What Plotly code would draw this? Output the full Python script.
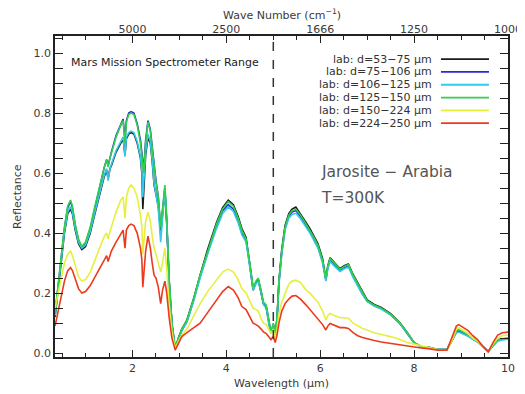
import plotly.graph_objects as go

# ---------------- data ----------------
wavelength_um = [
    0.35, 0.45, 0.55, 0.62, 0.68, 0.72, 0.78, 0.85, 0.92, 1.0,
    1.1, 1.2, 1.3, 1.4, 1.45, 1.48, 1.52, 1.55, 1.65, 1.75,
    1.80, 1.84, 1.87, 1.92, 1.97, 2.03, 2.1, 2.17, 2.2, 2.22,
    2.24, 2.28, 2.33, 2.38, 2.42, 2.46, 2.5, 2.55, 2.6, 2.64,
    2.69, 2.73, 2.78, 2.84, 2.91, 2.98, 3.05, 3.16, 3.3, 3.44,
    3.6, 3.79, 3.92, 4.04, 4.15, 4.25, 4.33, 4.42, 4.5, 4.57,
    4.63, 4.68, 4.74, 4.79, 4.85, 4.9, 4.95, 5.0, 5.04, 5.08,
    5.12, 5.18, 5.25, 5.33, 5.4, 5.48, 5.58, 5.7, 5.78, 5.85,
    5.95, 6.05, 6.12, 6.16, 6.21, 6.3, 6.42, 6.52, 6.6, 6.7,
    6.8, 6.9, 7.0, 7.15, 7.3, 7.5, 7.7, 7.85, 8.0, 8.15,
    8.3, 8.5, 8.7, 8.8, 8.9, 8.95, 9.05, 9.15, 9.25, 9.35,
    9.45, 9.58, 9.68, 9.78, 9.88, 10.0,
]

refl_53_75 = [
    0.12, 0.26, 0.40, 0.465, 0.48, 0.465, 0.41, 0.365, 0.345, 0.355,
    0.40, 0.465, 0.53, 0.59, 0.61, 0.58, 0.615, 0.625, 0.67, 0.70,
    0.715, 0.66, 0.715, 0.73, 0.735, 0.73, 0.70, 0.65, 0.60, 0.48,
    0.55, 0.66, 0.72, 0.70, 0.64, 0.56, 0.53, 0.49, 0.40, 0.46,
    0.54, 0.43, 0.24, 0.095, 0.015, 0.05, 0.08, 0.11, 0.18, 0.26,
    0.345, 0.435, 0.485, 0.51, 0.495, 0.455, 0.415, 0.385, 0.30, 0.21,
    0.235, 0.245, 0.20, 0.165, 0.15, 0.10, 0.065, 0.095, 0.055, 0.115,
    0.24, 0.345, 0.425, 0.465, 0.48, 0.487, 0.465, 0.435, 0.415, 0.395,
    0.365, 0.315, 0.245, 0.29, 0.318, 0.302, 0.282, 0.292, 0.297, 0.262,
    0.232, 0.202, 0.177, 0.162, 0.152, 0.132, 0.10, 0.07, 0.035, 0.022,
    0.02, 0.012, 0.012, 0.04, 0.07, 0.073, 0.066, 0.058, 0.047, 0.038,
    0.023, 0.005, 0.025, 0.042, 0.046, 0.048,
]

refl_75_106 = [
    0.13, 0.28, 0.415, 0.485, 0.505, 0.485, 0.425, 0.375, 0.35, 0.365,
    0.415, 0.485, 0.555, 0.62, 0.645, 0.625, 0.65, 0.67, 0.725, 0.765,
    0.78, 0.71, 0.775, 0.80, 0.805, 0.80, 0.765, 0.71, 0.67, 0.63,
    0.61, 0.71, 0.775, 0.745, 0.685, 0.62, 0.575, 0.52, 0.415, 0.475,
    0.55, 0.44, 0.245, 0.10, 0.015, 0.05, 0.075, 0.105, 0.175, 0.255,
    0.335, 0.425, 0.475, 0.495, 0.48, 0.44, 0.40, 0.375, 0.295, 0.215,
    0.235, 0.245, 0.205, 0.165, 0.155, 0.105, 0.068, 0.095, 0.058, 0.115,
    0.235, 0.335, 0.415, 0.455, 0.47, 0.475, 0.455, 0.425, 0.405, 0.385,
    0.355, 0.305, 0.245, 0.285, 0.31, 0.295, 0.275, 0.285, 0.29, 0.255,
    0.225, 0.197, 0.173, 0.158, 0.148, 0.128, 0.098, 0.068, 0.034, 0.021,
    0.019, 0.012, 0.012, 0.04, 0.072, 0.075, 0.068, 0.06, 0.048, 0.039,
    0.024, 0.005, 0.026, 0.044, 0.047, 0.049,
]

refl_106_125 = [
    0.125, 0.265, 0.405, 0.47, 0.488, 0.47, 0.415, 0.37, 0.35, 0.36,
    0.405, 0.47, 0.535, 0.595, 0.615, 0.575, 0.615, 0.63, 0.675, 0.705,
    0.72, 0.655, 0.72, 0.735, 0.74, 0.735, 0.705, 0.655, 0.61, 0.52,
    0.56, 0.67, 0.73, 0.705, 0.645, 0.565, 0.53, 0.48, 0.37, 0.45,
    0.545, 0.435, 0.24, 0.095, 0.015, 0.048, 0.075, 0.105, 0.172, 0.25,
    0.33, 0.415, 0.465, 0.487, 0.472, 0.435, 0.395, 0.37, 0.29, 0.21,
    0.23, 0.24, 0.20, 0.162, 0.152, 0.10, 0.066, 0.092, 0.056, 0.11,
    0.23, 0.33, 0.41, 0.45, 0.462, 0.466, 0.448, 0.42, 0.40, 0.38,
    0.35, 0.30, 0.24, 0.28, 0.305, 0.29, 0.272, 0.282, 0.287, 0.252,
    0.222, 0.195, 0.172, 0.157, 0.147, 0.127, 0.097, 0.068, 0.034, 0.021,
    0.019, 0.012, 0.012, 0.038, 0.068, 0.07, 0.063, 0.056, 0.046, 0.037,
    0.022, 0.005, 0.024, 0.04, 0.044, 0.046,
]

refl_125_150 = [
    0.13, 0.28, 0.42, 0.49, 0.51, 0.49, 0.43, 0.38, 0.355, 0.37,
    0.42, 0.49, 0.56, 0.62, 0.645, 0.62, 0.65, 0.665, 0.72, 0.76,
    0.775, 0.70, 0.77, 0.795, 0.80, 0.795, 0.76, 0.70, 0.66, 0.62,
    0.60, 0.70, 0.77, 0.74, 0.68, 0.62, 0.57, 0.52, 0.42, 0.48,
    0.56, 0.45, 0.25, 0.10, 0.015, 0.05, 0.08, 0.11, 0.18, 0.26,
    0.34, 0.43, 0.48, 0.505, 0.49, 0.45, 0.41, 0.38, 0.30, 0.22,
    0.24, 0.25, 0.21, 0.17, 0.16, 0.11, 0.07, 0.10, 0.06, 0.12,
    0.24, 0.34, 0.42, 0.46, 0.475, 0.48, 0.46, 0.43, 0.41, 0.39,
    0.36, 0.31, 0.25, 0.29, 0.315, 0.30, 0.28, 0.29, 0.295, 0.26,
    0.23, 0.20, 0.175, 0.16, 0.15, 0.13, 0.10, 0.07, 0.035, 0.022,
    0.02, 0.012, 0.012, 0.04, 0.075, 0.078, 0.07, 0.062, 0.05, 0.04,
    0.025, 0.005, 0.025, 0.045, 0.048, 0.05,
]

refl_150_224 = [
    0.15, 0.23, 0.30, 0.33, 0.34, 0.325, 0.29, 0.255, 0.24, 0.245,
    0.27, 0.31, 0.35, 0.39, 0.40, 0.38, 0.405, 0.42, 0.47, 0.51,
    0.52, 0.45, 0.52, 0.55, 0.56, 0.55, 0.52, 0.46, 0.42, 0.33,
    0.36, 0.44, 0.47, 0.44, 0.39, 0.35, 0.33, 0.30, 0.27, 0.30,
    0.35, 0.28, 0.16, 0.07, 0.015, 0.04, 0.06, 0.08, 0.12, 0.165,
    0.205, 0.245, 0.27, 0.28, 0.27, 0.245, 0.215, 0.20, 0.175, 0.15,
    0.145, 0.14, 0.115, 0.10, 0.095, 0.08, 0.065, 0.08, 0.05, 0.08,
    0.13, 0.17, 0.20, 0.23, 0.24, 0.243, 0.235, 0.21, 0.20, 0.188,
    0.17, 0.14, 0.11, 0.125, 0.132, 0.125, 0.118, 0.118, 0.116, 0.10,
    0.09, 0.082, 0.077, 0.068, 0.062, 0.055, 0.045, 0.035, 0.03, 0.025,
    0.02, 0.012, 0.01, 0.04, 0.08, 0.085, 0.075, 0.065, 0.05, 0.04,
    0.022, 0.004, 0.03, 0.05, 0.058, 0.06,
]

refl_224_250 = [
    0.09, 0.17, 0.24, 0.275, 0.285, 0.275, 0.245, 0.215, 0.20, 0.205,
    0.225, 0.255, 0.285, 0.315, 0.325, 0.305, 0.33, 0.34, 0.37, 0.40,
    0.41, 0.35, 0.41, 0.425, 0.43, 0.425, 0.40, 0.35, 0.31, 0.22,
    0.26, 0.34, 0.39, 0.35, 0.30, 0.26, 0.25, 0.22, 0.165, 0.21,
    0.24, 0.20, 0.12, 0.05, 0.01, 0.035, 0.055, 0.068, 0.085, 0.10,
    0.135, 0.175, 0.205, 0.222, 0.21, 0.185, 0.155, 0.145, 0.12, 0.10,
    0.095, 0.09, 0.08, 0.071, 0.065, 0.055, 0.045, 0.055, 0.035, 0.06,
    0.10, 0.14, 0.165, 0.18, 0.19, 0.192, 0.18, 0.16, 0.145, 0.132,
    0.115, 0.095, 0.077, 0.09, 0.099, 0.092, 0.085, 0.085, 0.082, 0.068,
    0.058, 0.052, 0.049, 0.042, 0.037, 0.032, 0.026, 0.022, 0.02, 0.017,
    0.015, 0.01, 0.01, 0.05, 0.09, 0.095, 0.085, 0.075, 0.058, 0.045,
    0.025, 0.004, 0.035, 0.06, 0.068, 0.07,
]

series_labels = [
    "lab: d=53\u221275 \u03bcm",
    "lab: d=75\u2212106 \u03bcm",
    "lab: d=106\u2212125 \u03bcm",
    "lab: d=125\u2212150 \u03bcm",
    "lab: d=150\u2212224 \u03bcm",
    "lab: d=224\u2212250 \u03bcm",
]
series_values = [refl_53_75, refl_75_106, refl_106_125,
                 refl_125_150, refl_150_224, refl_224_250]
series_colors = ["#1a1a1a", "#2a2ad2", "#33c8ec", "#2fd04a", "#e6f03c", "#ec3a1e"]

x_ticks = [2, 4, 6, 8, 10]
wavenumber_labels = ["5000", "2500", "1666", "1250", "1000"]
y_ticks = [0.0, 0.2, 0.4, 0.6, 0.8, 1.0]
mars_range_limit_um = 5.0

X_RANGE = [0.349, 10.0]
Y_RANGE = [-0.013, 1.057]

# ---------------- figure ----------------
FONT = "DejaVu Sans, Verdana, sans-serif"
AXC = "#222222"
TXT = "#3a3a3a"

fig = go.Figure()
for lab, vals, col in zip(series_labels, series_values, series_colors):
    fig.add_trace(go.Scatter(x=wavelength_um, y=vals, mode="lines", name=lab,
                             line=dict(color=col, width=1.6), showlegend=False,
                             hoverinfo="skip"))
# dummy trace to activate the top axis
fig.add_trace(go.Scatter(x=[wavelength_um[0]], y=[None], xaxis="x2",
                         mode="lines", showlegend=False, hoverinfo="skip"))

minor_x = [v / 2 for v in range(1, 21)]

# the page body adds an 8 px margin, so the figure is 8 px smaller each way
fig.update_layout(
    width=517, height=386,
    margin=dict(l=47, r=17, t=28, b=37, autoexpand=False),
    paper_bgcolor="white", plot_bgcolor="white",
    font=dict(family=FONT, size=11, color=TXT),
    xaxis=dict(range=X_RANGE, tickmode="array", tickvals=x_ticks,
               ticks="inside", ticklen=7, tickwidth=1.2, tickcolor=AXC,
               minor=dict(tickvals=minor_x, ticks="inside", ticklen=4,
                          tickwidth=1, tickcolor=AXC),
               showline=True, linecolor=AXC, linewidth=1.5, mirror=True,
               showgrid=False, zeroline=False, automargin=False,
               tickfont=dict(size=11, color=TXT)),
    xaxis2=dict(range=X_RANGE, overlaying="x", side="top", anchor="y",
                tickmode="array", tickvals=x_ticks, ticktext=wavenumber_labels,
                ticks="inside", ticklen=7, tickwidth=1.2, tickcolor=AXC,
                minor=dict(tickvals=minor_x, ticks="inside", ticklen=4,
                           tickwidth=1, tickcolor=AXC),
                showline=False, showgrid=False, zeroline=False, automargin=False,
                tickfont=dict(size=11, color=TXT)),
    yaxis=dict(range=Y_RANGE, tickmode="array", tickvals=y_ticks,
               tickformat=".1f", ticks="inside", ticklen=8, tickwidth=1.2,
               tickcolor=AXC,
               minor=dict(tickmode="linear", tick0=0, dtick=0.05,
                          ticks="inside", ticklen=4, tickwidth=1,
                          tickcolor=AXC),
               showline=True, linecolor=AXC, linewidth=1.5, mirror="allticks",
               showgrid=False, zeroline=False, automargin=False,
               tickfont=dict(size=11, color=TXT)),
)

# dashed vertical line marking the end of the Mars mission range
fig.add_shape(type="line", xref="x", yref="paper",
              x0=mars_range_limit_um, x1=mars_range_limit_um, y0=0, y1=1,
              line=dict(color="#333333", width=1.5, dash="dash"))

ann = []
ann.append(dict(text="Wavelength (\u03bcm)", x=0.5, y=-0.082, xref="paper", yref="paper",
                showarrow=False, xanchor="center", yanchor="middle",
                font=dict(size=11, color=TXT)))
ann.append(dict(text="Reflectance", x=-0.083, y=0.5, xref="paper", yref="paper",
                showarrow=False, textangle=-90, xanchor="center", yanchor="middle",
                font=dict(size=11, color=TXT)))
ann.append(dict(text="Wave Number (cm<sup>\u22121</sup>)", x=0.5, y=1.066,
                xref="paper", yref="paper", showarrow=False,
                xanchor="center", yanchor="middle",
                font=dict(size=11, color=TXT)))
ann.append(dict(text="Mars Mission Spectrometer Range", x=0.03, y=0.918,
                xref="paper", yref="paper", showarrow=False,
                xanchor="left", yanchor="middle",
                font=dict(size=11, color="#222222")))
ann.append(dict(text="Jarosite \u2212 Arabia", x=0.582, y=0.576,
                xref="paper", yref="paper", showarrow=False,
                xanchor="left", yanchor="middle",
                font=dict(size=15.5, color="#555555")))
ann.append(dict(text="T=300K", x=0.582, y=0.495,
                xref="paper", yref="paper", showarrow=False,
                xanchor="left", yanchor="middle",
                font=dict(size=15.5, color="#555555")))

# custom legend: label on the left, line sample on the right
leg_y0 = 0.928
leg_dy = 0.0399
for i, (lab, col) in enumerate(zip(series_labels, series_colors)):
    yy = leg_y0 - i * leg_dy
    ann.append(dict(text=lab, x=0.836, y=yy, xref="paper", yref="paper",
                    showarrow=False, xanchor="right", yanchor="middle",
                    font=dict(size=11, color="#333333")))
    fig.add_shape(type="line", xref="paper", yref="paper",
                  x0=0.852, x1=0.958, y0=yy, y1=yy,
                  line=dict(color=col, width=1.8))

fig.update_layout(annotations=ann)
fig.write_html("out.html")
